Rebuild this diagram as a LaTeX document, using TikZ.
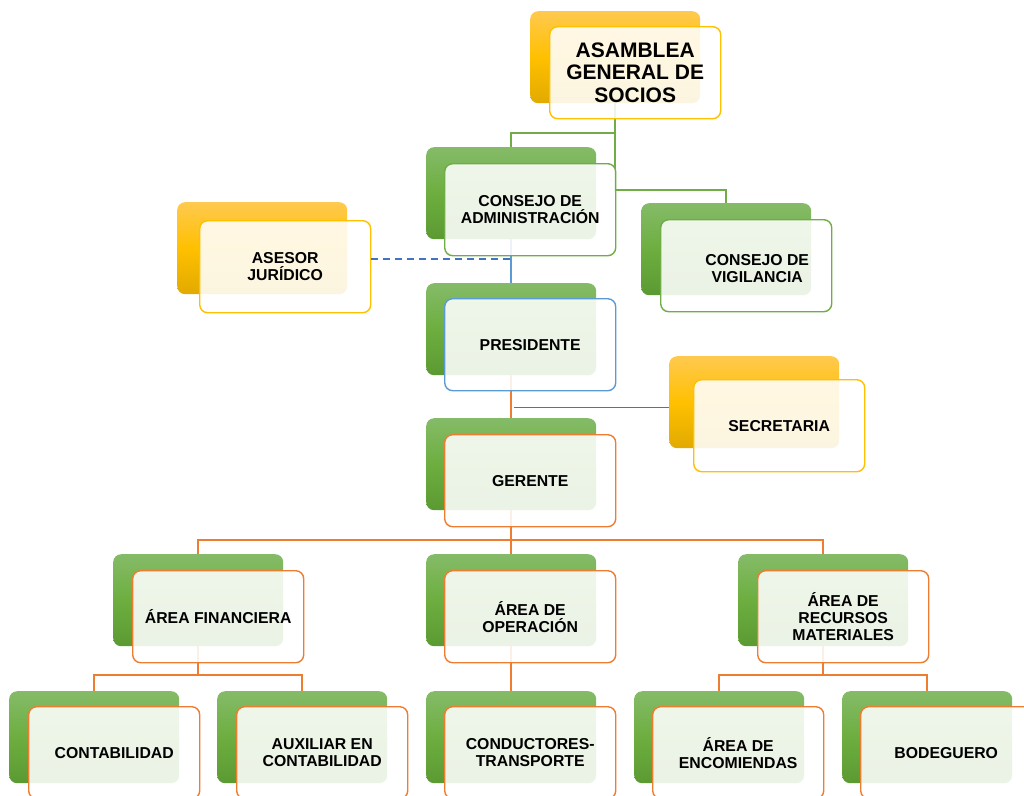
\documentclass[tikz,border=0pt]{standalone}
\usepackage{fontspec}
\setmainfont{Liberation Sans}
\definecolor{gA}{HTML}{FFC94F}
\definecolor{gB}{HTML}{FFC000}
\definecolor{gC}{HTML}{E2AA00}
\definecolor{vA}{HTML}{85BB68}
\definecolor{vB}{HTML}{6DAE3F}
\definecolor{vC}{HTML}{5B9A32}
\definecolor{lnG}{HTML}{70AD47}
\definecolor{lnB}{HTML}{5B9BD5}
\definecolor{lnD}{HTML}{4472C4}
\definecolor{lnO}{HTML}{ED7D31}
\tikzset{
  back/.style={rounded corners=8pt, minimum width=170pt, minimum height=92pt,
    inner sep=0pt, anchor=north west, draw=none},
  backgold/.style={back, top color=gA, bottom color=gC, middle color=gB},
  backgreen/.style={back, top color=vA, bottom color=vC, middle color=vB},
  front/.style={rounded corners=8pt, minimum width=171pt, minimum height=92pt,
    inner sep=2pt, anchor=north west, draw=#1, line width=1.4pt,
    fill=white, fill opacity=0.88, text opacity=1, align=center,
    font=\bfseries\fontsize{15.8}{17.2}\selectfont},
  bigtext/.style={font=\bfseries\fontsize{21}{22.5}\selectfont},
  conn/.style={line width=2pt, draw=#1},
}
\newcommand\frontbox[5]{%
  \node[front=#4] (#1) at ([xshift=#2pt,yshift=-#3pt]#1-b.north west) {#5};}
\begin{document}
\begin{tikzpicture}[x=1pt,y=-1pt]
\useasboundingbox (0,0) rectangle (1024,795);
\clip (0,0) rectangle (1024,795);
\fill[white] (0,0) rectangle (1024,795);
% back boxes
\node[backgold]  (asam-b) at (530,11)  {};
\node[backgreen] (cadm-b) at (426,147) {};
\node[backgreen] (cvig-b) at (641,203) {};
\node[backgold]  (ases-b) at (177,202) {};
\node[backgreen] (pres-b) at (426,283) {};
\node[backgold]  (secr-b) at (669,356) {};
\node[backgreen] (ger-b)  at (426,418) {};
\node[backgreen] (fin-b)  at (113,554) {};
\node[backgreen] (oper-b) at (426,554) {};
\node[backgreen] (recm-b) at (738,554) {};
\node[backgreen] (cont-b) at (9,691)   {};
\node[backgreen] (aux-b)  at (217,691) {};
\node[backgreen] (cond-b) at (426,691) {};
\node[backgreen] (enc-b)  at (634,691) {};
\node[backgreen] (bod-b)  at (842,691) {};
% connectors
\draw[conn=lnG] (asam-b.south) -- ++(0,30) -| (cadm-b.north);
\draw[conn=lnG] (asam-b.south) -- ++(0,87) -| (cvig-b.north);
\draw[conn=lnB] (cadm-b.south) -- (pres-b.north);
\draw[conn=lnO] (pres-b.south) -- (ger-b.north);
\coordinate (secj) at (514,407);
\draw[line width=1pt, draw=lnD] (secj) -- (secj -| secr-b.west);
\draw[conn=lnO] (ger-b.south) -- ++(0,30) -| (fin-b.north);
\draw[conn=lnO] (ger-b.south) -- (oper-b.north);
\draw[conn=lnO] (ger-b.south) -- ++(0,30) -| (recm-b.north);
\draw[conn=lnO] (fin-b.south) -- ++(0,29) -| (cont-b.north);
\draw[conn=lnO] (fin-b.south) -- ++(0,29) -| (aux-b.north);
\draw[conn=lnO] (oper-b.south) -- (cond-b.north);
\draw[conn=lnO] (recm-b.south) -- ++(0,29) -| (enc-b.north);
\draw[conn=lnO] (recm-b.south) -- ++(0,29) -| (bod-b.north);
% front boxes
\node[front=gB, bigtext] (asam) at ([xshift=19pt,yshift=-15pt]asam-b.north west) {ASAMBLEA\\GENERAL DE\\SOCIOS};
\frontbox{cadm}{18}{16}{lnG}{CONSEJO DE\\ADMINISTRACIÓN}
\frontbox{cvig}{19}{16}{lnG}{}
\node[align=center, font=\bfseries\fontsize{15.8}{17.2}\selectfont] (cvig-t) at ([xshift=11pt,yshift=-3pt]cvig.center) {CONSEJO DE\\VIGILANCIA};
\frontbox{ases}{22}{18}{gB}{ASESOR\\JURÍDICO}
\frontbox{pres}{18}{15}{lnB}{PRESIDENTE}
\frontbox{secr}{24}{23}{gB}{SECRETARIA}
\frontbox{ger}{18}{16}{lnO}{GERENTE}
\frontbox{fin}{19}{16}{lnO}{ÁREA FINANCIERA}
\frontbox{oper}{18}{16}{lnO}{ÁREA DE\\OPERACIÓN}
\frontbox{recm}{19}{16}{lnO}{ÁREA DE\\RECURSOS\\MATERIALES}
\frontbox{cont}{19}{15}{lnO}{CONTABILIDAD}
\frontbox{aux}{19}{15}{lnO}{AUXILIAR EN\\CONTABILIDAD}
\frontbox{cond}{18}{15}{lnO}{CONDUCTORES-\\TRANSPORTE}
\frontbox{enc}{18}{15}{lnO}{ÁREA DE\\ENCOMIENDAS}
\frontbox{bod}{18}{15}{lnO}{BODEGUERO}
% dashed advisory line
\coordinate (asesj) at (511,259);
\draw[line width=1.6pt, draw=lnD, dash pattern=on 7pt off 5pt] (asesj -| ases.east) -- (asesj);
\end{tikzpicture}
\end{document}
